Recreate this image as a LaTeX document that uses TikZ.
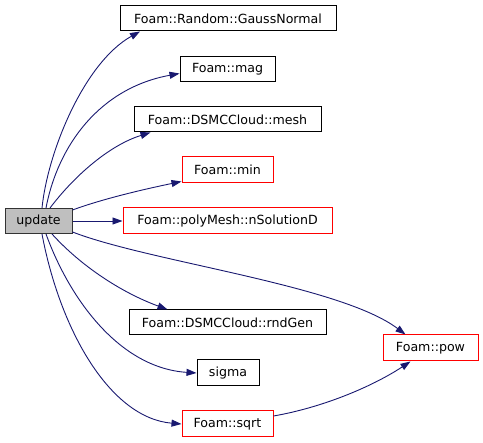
\documentclass[tikz,border=0pt]{standalone}
\usepackage{fontspec}
\setmainfont{DejaVu Sans}
\usetikzlibrary{arrows.meta}
\definecolor{edgecol}{HTML}{191970}
\definecolor{redbox}{HTML}{FF0000}
\definecolor{graybox}{HTML}{BFBFBF}
\begin{document}
\begin{tikzpicture}[x=1pt,y=-1pt,
  box/.style={draw=black, line width=1pt, inner sep=0pt, minimum height=25pt, font=\fontsize{12.6}{14}\selectfont, fill=white},
  redb/.style={box, draw=redbox},
  cur/.style={box, fill=graybox, draw=black!80},
  edge/.style={draw=edgecol, line width=0.9pt, -{Triangle[length=10pt,width=7pt]}}]
\useasboundingbox (0,0) rectangle (483,443);
\node[cur, minimum width=67pt] (update) at (38.5,221) {update};
\node[box, minimum width=216pt] (gauss) at (228,18.5) {Foam::Random::GaussNormal};
\node[box, minimum width=95pt] (mag) at (227.5,69.5) {Foam::mag};
\node[box, minimum width=187pt] (mesh) at (227.5,119.5) {Foam::DSMCCloud::mesh};
\node[redb, minimum width=91pt, minimum height=26pt] (min) at (227.5,170) {Foam::min};
\node[redb, minimum width=209pt, minimum height=26pt] (nsol) at (227.5,221) {Foam::polyMesh::nSolutionD};
\node[box, minimum width=197pt] (rnd) at (227.5,322.5) {Foam::DSMCCloud::rndGen};
\node[redb, minimum width=95pt, minimum height=26pt] (pow) at (430.5,348) {Foam::pow};
\node[box, minimum width=62pt, minimum height=26pt] (sigma) at (228,373) {sigma};
\node[redb, minimum width=91pt, minimum height=26pt] (sqrt) at (227.5,424) {Foam::sqrt};

\draw[edge] ([xshift=3.5pt]update.north) .. controls (48,150) and (85,62) .. ([xshift=-88pt]gauss.south);
\draw[edge] ([xshift=7.5pt]update.north) .. controls (58,145) and (100,88) .. ([yshift=-4pt]mag.west);
\draw[edge] ([xshift=11.5pt]update.north) .. controls (75,175) and (110,145) .. ([xshift=-77pt]mesh.south);
\draw[edge] ([yshift=11pt]update.east) .. controls (105,198) and (150,188) .. ([yshift=2pt]min.south west);
\draw[edge] (update.east) -- (nsol.west);
\draw[edge] ([yshift=-11pt]update.east) .. controls (150,262) and (340,285) .. ([xshift=-25pt]pow.north);
\draw[edge] ([xshift=13.5pt]update.south) .. controls (80,265) and (120,292) .. ([xshift=-60pt]rnd.north);
\draw[edge] ([xshift=7.5pt]update.south) .. controls (70,300) and (120,368) .. (sigma.west);
\draw[edge] ([xshift=3.5pt]update.south) .. controls (60,330) and (110,418) .. (sqrt.west);
\draw[edge] ([yshift=8pt]sqrt.east) .. controls (320,408) and (370,388) .. ([xshift=-20pt]pow.south);
\end{tikzpicture}
\end{document}
